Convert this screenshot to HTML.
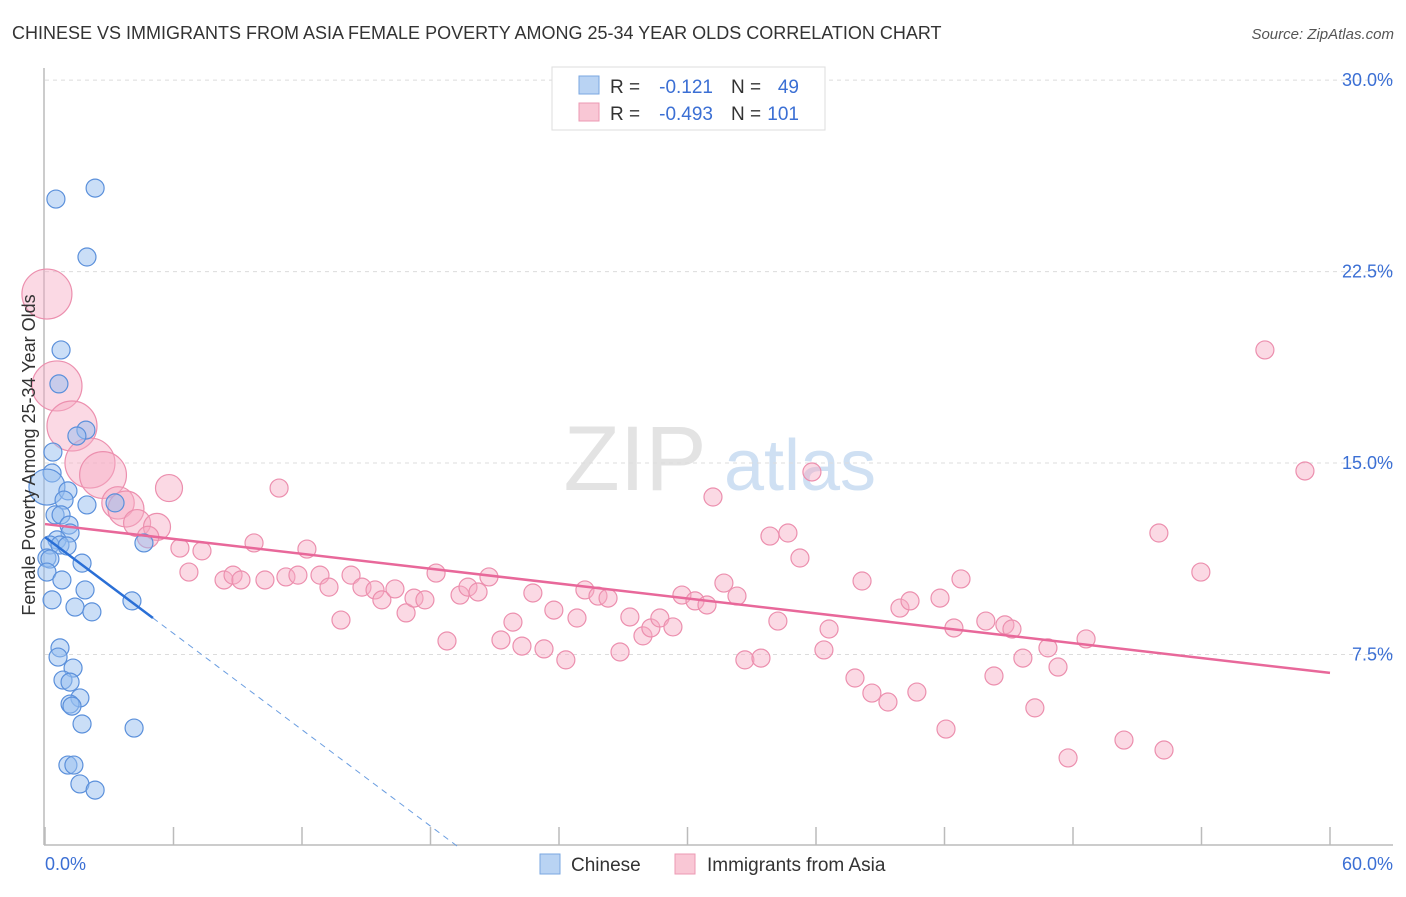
<!DOCTYPE html>
<html><head><meta charset="utf-8"><style>
body{margin:0;background:#fff;font-family:"Liberation Sans",sans-serif;}
svg text{font-family:"Liberation Sans",sans-serif;}
</style></head><body>
<svg id="chart" width="1406" height="892">
<text x="12" y="39" font-size="18" fill="#333">CHINESE VS IMMIGRANTS FROM ASIA FEMALE POVERTY AMONG 25-34 YEAR OLDS CORRELATION CHART</text>
<text x="1394" y="39" font-size="15" fill="#555" font-style="italic" text-anchor="end">Source: ZipAtlas.com</text>
<g>
<text x="635" y="490" font-size="92" fill="#e3e3e3" text-anchor="middle" font-family="Liberation Serif,serif">ZIP</text>
<text x="800" y="490" font-size="72" fill="#cfe0f3" text-anchor="middle">atlas</text>
</g>
<g id="grid"></g>
<g id="axes"></g>
<g id="pink"></g>
<g id="blue"></g>
<g id="trends"></g>
<text x="35" y="455" font-size="18" fill="#333" text-anchor="middle" transform="rotate(-90 35 455)">Female Poverty Among 25-34 Year Olds</text>
<text x="45" y="870" font-size="18" fill="#3b6fd4">0.0%</text>
<text x="1393" y="870" font-size="18" fill="#3b6fd4" text-anchor="end">60.0%</text>
<g>
<rect x="552" y="67" width="273" height="63" fill="#fff" stroke="#ddd"/>
<rect x="579" y="76" width="20" height="18" fill="#b9d3f3" stroke="#7aa7e0"/>
<rect x="579" y="103" width="20" height="18" fill="#f9c7d5" stroke="#ec9ab3"/>
<text x="610" y="93" font-size="19" fill="#333">R =</text>
<text x="713" y="93" font-size="19" fill="#3b6fd4" text-anchor="end">-0.121</text>
<text x="731" y="93" font-size="19" fill="#333">N =</text>
<text x="799" y="93" font-size="19" fill="#3b6fd4" text-anchor="end">49</text>
<text x="610" y="120" font-size="19" fill="#333">R =</text>
<text x="713" y="120" font-size="19" fill="#3b6fd4" text-anchor="end">-0.493</text>
<text x="731" y="120" font-size="19" fill="#333">N =</text>
<text x="799" y="120" font-size="19" fill="#3b6fd4" text-anchor="end">101</text>
</g>
<g>
<rect x="540" y="854" width="20" height="20" fill="#b9d3f3" stroke="#7aa7e0"/>
<text x="571" y="871" font-size="19" fill="#333">Chinese</text>
<rect x="675" y="854" width="20" height="20" fill="#f9c7d5" stroke="#ec9ab3"/>
<text x="707" y="871" font-size="19" fill="#333">Immigrants from Asia</text>
</g>
</svg>
<script>
const yTicks=[7.5,15,22.5,30];
const yTickLabels=["7.5%","15.0%","22.5%","30.0%"];
const xTicks=[0,6,12,18,24,30,36,42,48,54,60];
const blueX=[0.51,2.34,1.96,0.75,0.65,1.91,1.49,0.37,0.33,0.09,1.07,0.89,1.96,3.27,0.47,0.75,1.12,1.17,0.56,0.23,0.70,1.03,4.62,0.09,0.23,1.73,0.09,0.79,1.87,0.33,1.40,2.19,4.06,0.70,0.61,1.31,0.84,1.17,1.63,1.17,1.73,4.16,1.07,1.35,1.63,2.34,1.26];
const blueY=[25.34,25.77,23.07,19.43,18.10,16.29,16.06,15.43,14.61,14.06,13.91,13.55,13.36,13.44,12.97,12.97,12.57,12.26,11.99,11.79,11.79,11.75,11.87,11.28,11.24,11.08,10.73,10.42,10.03,9.64,9.36,9.17,9.60,7.76,7.40,6.97,6.50,6.42,5.80,5.56,4.78,4.62,3.17,3.17,2.43,2.19,5.48];
const pinkX=[0.09,0.56,1.26,2.10,2.71,3.41,3.78,4.30,5.23,5.79,4.81,6.30,6.72,7.33,8.36,8.78,9.15,9.76,10.27,10.93,11.25,11.81,12.23,12.84,13.26,13.82,14.29,14.80,15.41,15.73,16.34,16.86,17.23,17.74,18.26,18.77,19.38,19.75,20.22,20.73,21.29,21.85,22.27,22.78,23.30,23.76,24.32,24.84,25.21,25.82,26.29,26.85,27.31,27.92,28.29,28.71,29.32,29.74,30.35,30.91,31.19,31.70,32.31,32.68,33.43,33.85,34.22,34.69,35.25,35.81,36.37,36.61,37.82,38.15,38.61,39.36,39.92,40.39,40.71,41.79,42.07,42.44,42.77,43.93,44.31,44.82,45.15,45.66,46.22,46.83,47.30,47.77,48.61,50.38,52.01,52.25,53.97,56.96,58.83];
const pinkY=[21.62,18.02,16.45,15.00,14.53,13.44,13.20,12.65,12.50,14.02,12.10,11.67,10.73,11.56,10.42,10.61,10.42,11.87,10.42,14.02,10.54,10.61,11.63,10.61,10.14,8.85,10.61,10.14,10.03,9.64,10.07,9.13,9.71,9.64,10.69,8.03,9.83,10.14,9.95,10.54,8.07,8.77,7.83,9.91,7.72,9.24,7.29,8.93,10.03,9.79,9.71,7.60,8.97,8.23,8.54,8.93,8.58,9.83,9.60,9.44,13.67,10.30,9.79,7.29,7.36,12.14,8.81,12.26,11.28,14.65,7.68,8.50,6.58,10.38,5.99,5.64,9.32,9.60,6.03,9.71,4.58,8.54,10.46,8.81,6.66,8.66,8.50,7.36,5.41,7.76,7.01,3.45,8.11,4.15,12.26,3.76,10.73,19.43,14.69];
const pinkWeight=[6,4,3.5,3,2.6,1.8,2,1.5,1.5,1.5,1.2];
const blueWeight=[1,1,1,1,1,1,1,1,1,2];
const blueTrend=[12.10,8.93];
const blueTrendEndX=5.04;
const pinkTrend=[12.61,6.78];
const NS="http://www.w3.org/2000/svg";
const X0=45,X1=1330,Y0=846,PXY=25.53;
function sx(v){return X0+v*(X1-X0)/60;}
function sy(v){return Y0-v*PXY;}
function mk(tag,attrs,parent){const e=document.createElementNS(NS,tag);for(const k in attrs)e.setAttribute(k,attrs[k]);document.getElementById(parent).appendChild(e);return e;}
yTicks.forEach((t,i)=>{
 const g=mk('line',{x1:45,x2:1393,y1:sy(t),y2:sy(t),stroke:'#dcdcdc','stroke-dasharray':'4,4'},'grid');
 
 
 const l=mk('text',{x:1393,y:sy(t)+6,'font-size':18,fill:'#3b6fd4','text-anchor':'end'},'grid');
 l.textContent=yTickLabels[i];
 
 
});
const ya=mk('line',{x1:44,x2:44,y1:68,y2:845,stroke:'#bbb','stroke-width':1.5},'axes');


const xa=mk('line',{x1:44,x2:1393,y1:845,y2:845,stroke:'#bbb','stroke-width':1.5},'axes');


xTicks.forEach(t=>{
 const k=mk('line',{x1:sx(t),x2:sx(t),y1:827,y2:845,stroke:'#bbb','stroke-width':1.5},'axes');
 
 
});
pinkX.forEach((x,i)=>{
 const r=9*(pinkWeight[i]||1);
 const c=mk('circle',{cx:sx(x),cy:sy(pinkY[i]),r:Math.min(r,25),fill:'rgba(246,170,195,0.45)',stroke:'#ec8fae','stroke-width':1.2},'pink');
 
 
});
blueX.forEach((x,i)=>{
 const r=9*(blueWeight[i]||1);
 const c=mk('circle',{cx:sx(x),cy:sy(blueY[i]),r:r,fill:'rgba(150,190,240,0.5)',stroke:'#5b90db','stroke-width':1.2},'blue');
 
 
});
const pt=mk('line',{x1:sx(0),y1:sy(pinkTrend[0]),x2:sx(60),y2:sy(pinkTrend[1]),stroke:'#e8689a','stroke-width':2.5},'trends');


const slope=(blueTrend[1]-blueTrend[0])/blueTrendEndX;
const zx=-blueTrend[0]/slope;
const bd=mk('line',{x1:sx(blueTrendEndX),y1:sy(blueTrend[1]),x2:sx(zx),y2:sy(0),stroke:'#6a9de0','stroke-width':1,'stroke-dasharray':'6,5'},'trends');


const bt=mk('line',{x1:sx(0),y1:sy(blueTrend[0]),x2:sx(blueTrendEndX),y2:sy(blueTrend[1]),stroke:'#2a6fd6','stroke-width':2.5},'trends');


</script>
</body></html>
